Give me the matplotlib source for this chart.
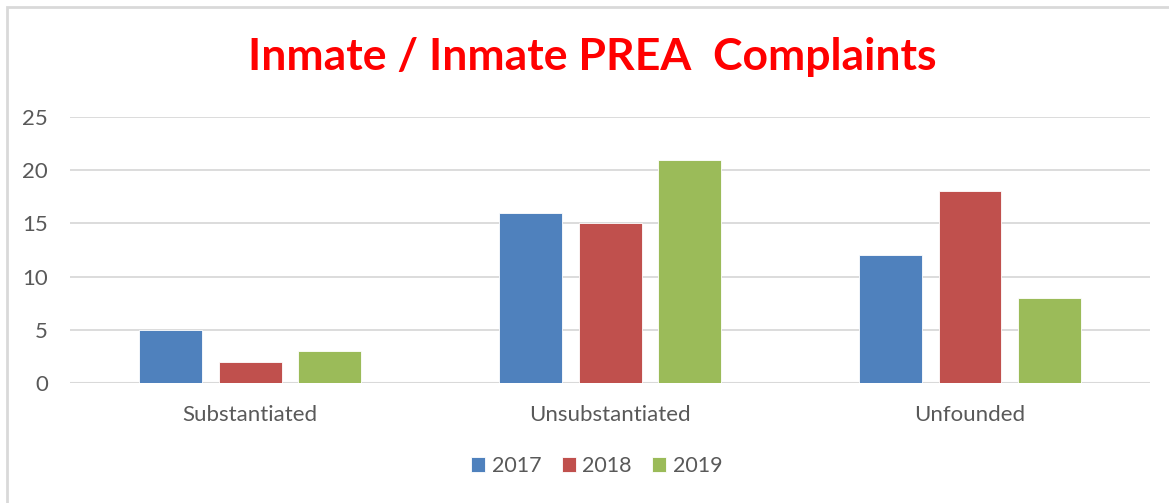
import numpy as np
import matplotlib.pyplot as plt
from matplotlib.patches import Rectangle

categories = ["Substantiated", "Unsubstantiated", "Unfounded"]
years = ["2017", "2018", "2019"]
values_2017 = [5, 16, 12]
values_2018 = [2, 15, 18]
values_2019 = [3, 21, 8]
colors = ["#4F81BD", "#C0504D", "#9BBB59"]

plt.rcParams['font.family'] = ['Lato', 'DejaVu Sans']

fig = plt.figure(figsize=(11.69, 5.03), dpi=100)
ax = fig.add_axes([70 / 1169, 120 / 503, 1080 / 1169, 266 / 503])

# outer chart border (Excel style)
fig.patches.append(Rectangle((7 / 1169, -0.1), 1.2, 0.1 + (503 - 7) / 503,
                             transform=fig.transFigure, fill=False,
                             edgecolor="#d9d9d9", linewidth=2))

x = np.arange(len(categories))
width = 0.175
step = 0.222
for i, (vals, yr) in enumerate(zip([values_2017, values_2018, values_2019], years)):
    ax.bar(x + (i - 1) * step, vals, width, color=colors[i], label=yr,
           edgecolor="white", linewidth=0.6, zorder=3)

ax.set_xlim(-0.5, 2.5)
ax.set_ylim(0, 25)
ax.set_yticks(range(0, 26, 5))
ax.yaxis.grid(True, color="#d9d9d9", linewidth=1.3, zorder=0)
for s in ax.spines.values():
    s.set_visible(False)
ax.axhline(0, color="#d9d9d9", linewidth=1.5, zorder=2)
ax.tick_params(axis='both', length=0, labelsize=16, labelcolor="#595959")
ax.tick_params(axis='y', pad=16)
ax.tick_params(axis='x', pad=16)
ax.set_xticks(x)
ax.set_xticklabels(categories)

fig.text(592 / 1169, 1 - 57 / 503, "Inmate / Inmate PREA  Complaints",
         ha="center", va="center", color="#FF0000", fontsize=32, fontweight="bold")

fig.legend(loc="center", bbox_to_anchor=(597 / 1169, 1 - 466 / 503), ncol=3,
           frameon=False, fontsize=15.5, labelcolor="#595959",
           handlelength=0.65, handleheight=0.65, handletextpad=0.3, columnspacing=0.95)

fig.savefig("out.png", dpi=100)
